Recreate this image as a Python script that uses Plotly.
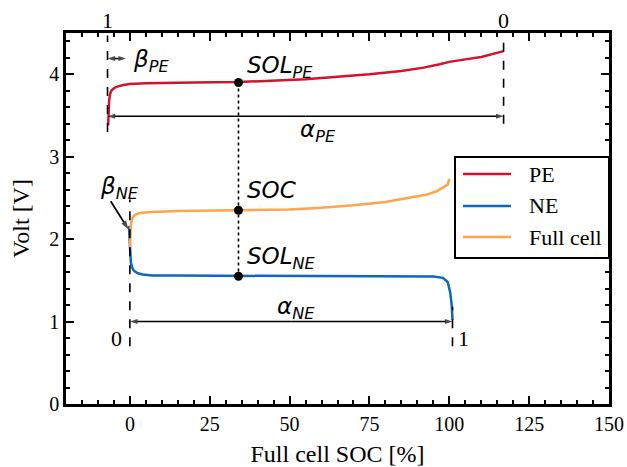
import plotly.graph_objects as go

# Positive electrode (PE) voltage vs full-cell SOC
pe_soc = [-6.8, -6.7, -6.5, -6.2, -5.8, -5.0, -4.0, -2.0, 0, 5, 10, 20, 34, 45, 55, 65, 75, 85, 92, 97, 100, 105, 110, 117]
pe_volt = [3.38, 3.55, 3.68, 3.76, 3.80, 3.83, 3.85, 3.87, 3.88, 3.89, 3.895, 3.90, 3.905, 3.92, 3.94, 3.97, 4.00, 4.04, 4.08, 4.12, 4.15, 4.18, 4.21, 4.28]

# Negative electrode (NE) voltage
ne_soc = [-0.3, 0, 0.1, 0.3, 0.6, 1.0, 1.5, 2.5, 4, 7, 15, 34, 60, 80, 95, 98, 99.5, 100.3, 100.8, 101]
ne_volt = [2.16, 1.90, 1.80, 1.72, 1.67, 1.63, 1.61, 1.585, 1.57, 1.56, 1.558, 1.555, 1.55, 1.548, 1.545, 1.53, 1.48, 1.35, 1.18, 1.02]

# Full cell voltage
fc_soc = [0, 0.1, 0.3, 0.6, 1.0, 1.5, 2.5, 4, 7, 15, 34, 50, 60, 70, 80, 88, 93, 96, 98, 99.5, 100]
fc_volt = [1.90, 2.05, 2.17, 2.23, 2.27, 2.29, 2.31, 2.32, 2.33, 2.34, 2.35, 2.36, 2.38, 2.41, 2.45, 2.50, 2.54, 2.58, 2.62, 2.66, 2.73]

# Electrode alignment parameters
pe_start, pe_end = -7.0, 117.0      # PE lithiation limits (1 -> 0)
ne_start, ne_end = 0.0, 101.0       # NE lithiation limits (0 -> 1)
soc_marker = 34.0
sol_pe, soc_v, sol_ne = 3.90, 2.35, 1.55
alpha_pe_v, alpha_ne_v, beta_pe_v = 3.49, 1.0, 4.19
beta_pe_end = -1.2
beta_ne_from, beta_ne_to = (-6.0, 2.46), (-0.5, 2.12)

RED = "#d7102b"
BLUE = "#0a69bd"
ORANGE = "#ffa44a"

fig = go.Figure()
fig.add_trace(go.Scatter(x=pe_soc, y=pe_volt, mode="lines", name="PE",
                         line=dict(color=RED, width=2.5), showlegend=False))
fig.add_trace(go.Scatter(x=ne_soc, y=ne_volt, mode="lines", name="NE",
                         line=dict(color=BLUE, width=2.5), showlegend=False))
fig.add_trace(go.Scatter(x=fc_soc, y=fc_volt, mode="lines", name="Full cell",
                         line=dict(color=ORANGE, width=2.5), showlegend=False))

# dotted guide through the three state markers
fig.add_trace(go.Scatter(x=[soc_marker, soc_marker], y=[sol_pe, sol_ne], mode="lines",
                         line=dict(color="black", width=1.6, dash="dot"), showlegend=False))
fig.add_trace(go.Scatter(x=[soc_marker] * 3, y=[sol_pe, soc_v, sol_ne], mode="markers",
                         marker=dict(color="black", size=9), showlegend=False))


def arrow(x0, y0, x1, y1, width=1.6, size=8):
    """Line from (x0, y0) to (x1, y1) with an arrowhead at (x1, y1)."""
    fig.add_trace(go.Scatter(
        x=[x0, x1], y=[y0, y1], mode="lines+markers", showlegend=False, hoverinfo="skip",
        line=dict(color="black", width=width),
        marker=dict(symbol="arrow", angleref="previous", size=[0, size], color="black",
                    line=dict(width=0)),
    ))


def double_arrow(x0, x1, y):
    mid = (x0 + x1) / 2
    arrow(mid, y, x0, y)
    arrow(mid, y, x1, y)


double_arrow(pe_start, pe_end, alpha_pe_v)
double_arrow(ne_start, ne_end, alpha_ne_v)
double_arrow(pe_start, beta_pe_end, beta_pe_v)
arrow(*beta_ne_from, *beta_ne_to, width=1.8, size=9)

dash = dict(color="black", width=1.6, dash="dash")
shapes = [
    dict(type="line", xref="x", yref="y", x0=pe_start, x1=pe_start, y0=3.30, y1=4.47, line=dash),
    dict(type="line", xref="x", yref="y", x0=pe_end, x1=pe_end, y0=3.40, y1=4.47, line=dash),
    dict(type="line", xref="x", yref="y", x0=ne_start, x1=ne_start, y0=0.70, y1=2.48, line=dash),
    dict(type="line", xref="x", yref="y", x0=ne_end, x1=ne_end, y0=0.70, y1=1.18, line=dash),
]

# legend box drawn in paper coordinates
leg_items = [("PE", RED, 0.6199), ("NE", BLUE, 0.5337), ("Full cell", ORANGE, 0.4501)]
shapes.append(dict(type="rect", xref="paper", yref="paper", x0=0.7164, x1=1.0, y0=0.3935, y1=0.6658,
                   line=dict(color="black", width=2), fillcolor="white", layer="above"))
for _, col, yy in leg_items:
    shapes.append(dict(type="line", xref="paper", yref="paper", x0=0.7311, x1=0.8195, y0=yy, y1=yy,
                       line=dict(color=col, width=2.5), layer="above"))

SERIF = "Liberation Serif"
sans = dict(family="DejaVu Sans", size=23, color="black")
num_font = dict(family=SERIF, size=22, color="black")
legend_font = dict(family=SERIF, size=22, color="black")
tick_font = dict(family=SERIF, size=20, color="black")
title_font = dict(family=SERIF, size=24, color="black")

annotations = [
    dict(x=36, y=4.09, text="<i>SOL<sub>PE</sub></i>", xanchor="left", showarrow=False, font=sans),
    dict(x=36, y=2.59, text="<i>SOC</i>", xanchor="left", showarrow=False, font=sans),
    dict(x=36, y=1.77, text="<i>SOL<sub>NE</sub></i>", xanchor="left", showarrow=False, font=sans),
    dict(x=59, y=3.31, text="<i>α<sub>PE</sub></i>", xanchor="center", showarrow=False, font=sans),
    dict(x=52, y=1.16, text="<i>α<sub>NE</sub></i>", xanchor="center", showarrow=False, font=sans),
    dict(x=0.5, y=4.16, text="<i>β<sub>PE</sub></i>", xanchor="left", showarrow=False, font=sans),
    dict(x=-3.3, y=2.62, text="<i>β<sub>NE</sub></i>", xanchor="center", showarrow=False, font=sans),
    dict(x=pe_start, y=1.035, yref="paper", yanchor="middle", text="1", showarrow=False, font=num_font),
    dict(x=pe_end, y=1.035, yref="paper", yanchor="middle", text="0", showarrow=False, font=num_font),
    dict(x=-4.3, y=0.80, text="0", showarrow=False, font=num_font),
    dict(x=104.3, y=0.80, text="1", showarrow=False, font=num_font),
]
for name, _, yy in leg_items:
    annotations.append(dict(x=0.849, y=yy, xref="paper", yref="paper", text=name, xanchor="left",
                            yanchor="middle", showarrow=False, font=legend_font))

axis_common = dict(
    showline=True, linecolor="black", linewidth=2.5, mirror="allticks",
    ticks="inside", ticklen=8, tickwidth=2, tickcolor="black",
    showgrid=False, zeroline=False, automargin=False,
    tickfont=tick_font,
)

fig.update_layout(
    width=627, height=467,
    margin=dict(l=66, r=18, t=33, b=63),
    paper_bgcolor="white", plot_bgcolor="white",
    shapes=shapes, annotations=annotations,
    xaxis=dict(range=[-20, 150], tickvals=[0, 25, 50, 75, 100, 125, 150],
               minor=dict(dtick=5, tick0=0, ticks="inside", ticklen=4, tickwidth=2, tickcolor="black"),
               title=dict(text="Full cell SOC [%]", font=title_font, standoff=12),
               **axis_common),
    yaxis=dict(range=[0, 4.5], tickvals=[0, 1, 2, 3, 4],
               minor=dict(dtick=0.2, tick0=0, ticks="inside", ticklen=4, tickwidth=2, tickcolor="black"),
               title=dict(text="Volt [V]", font=title_font, standoff=13),
               **axis_common),
)

fig.write_html("out.html")
